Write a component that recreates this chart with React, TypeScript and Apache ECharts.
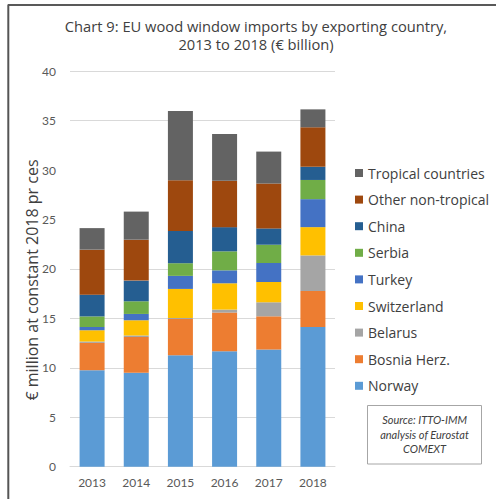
import React, { useEffect, useRef } from "react";
import * as echarts from "echarts";

const years = ["2013", "2014", "2015", "2016", "2017", "2018"];
const norway = [9.76, 9.49, 11.28, 11.68, 11.85, 14.13];
const bosnia = [2.76, 3.63, 3.66, 3.91, 3.36, 3.64];
const belarus = [0.14, 0.15, 0.1, 0.3, 1.42, 3.6];
const switzerland = [1.14, 1.54, 2.94, 2.66, 2.05, 2.86];
const turkey = [0.33, 0.64, 1.32, 1.31, 1.92, 2.83];
const serbia = [1.07, 1.28, 1.28, 1.92, 1.85, 1.94];
const china = [2.2, 2.09, 3.27, 2.45, 1.65, 1.33];
const otherNonTropical = [4.55, 4.14, 5.13, 4.68, 4.54, 4.0];
const tropical = [2.18, 2.84, 7.0, 4.75, 3.23, 1.81];

const seriesDefs = [
  { name: "Norway", data: norway, color: "#5b9bd5" },
  { name: "Bosnia Herz.", data: bosnia, color: "#ed7d31" },
  { name: "Belarus", data: belarus, color: "#a5a5a5" },
  { name: "Switzerland", data: switzerland, color: "#ffc000" },
  { name: "Turkey", data: turkey, color: "#4472c4" },
  { name: "Serbia", data: serbia, color: "#70ad47" },
  { name: "China", data: china, color: "#255e91" },
  { name: "Other non-tropical", data: otherNonTropical, color: "#9e480e" },
  { name: "Tropical countries", data: tropical, color: "#636363" },
];

const FONT = "Lato, 'Open Sans', sans-serif";
const WIDE = "'Open Sans', Lato, sans-serif";

export default function App() {
  const ref = useRef<HTMLDivElement>(null);
  useEffect(() => {
    if (!ref.current) return;
    const chart = echarts.init(ref.current, undefined, { renderer: "svg" });
    chart.setOption({
      animation: false,
      backgroundColor: "#ffffff",
      textStyle: { fontFamily: FONT },
      grid: { left: 70, right: 161, top: 71.2, bottom: 32.3 },
      legend: {
        orient: "vertical",
        left: 350,
        top: 161,
        padding: 5,
        itemWidth: 8,
        itemHeight: 8,
        itemGap: 12.6,
        icon: "rect",
        data: seriesDefs.map((s) => s.name).reverse(),
        textStyle: { fontSize: 14, color: "#404040", lineHeight: 14, fontFamily: WIDE },
        selectedMode: false,
      },
      xAxis: {
        type: "category",
        data: years,
        axisLine: { lineStyle: { color: "#d9d9d9", width: 1 } },
        axisTick: { show: false },
        axisLabel: { color: "#595959", fontSize: 12, margin: 10, fontFamily: FONT },
      },
      yAxis: {
        type: "value",
        min: 0,
        max: 40,
        interval: 5,
        axisLine: { show: false },
        axisTick: { show: false },
        axisLabel: { color: "#595959", fontSize: 12, margin: 14, fontFamily: FONT },
        splitLine: {
          lineStyle: {
            color: [
              "#d9d9d9",
              "#d9d9d9",
              "#d9d9d9",
              "#d9d9d9",
              "#d9d9d9",
              "rgba(0,0,0,0)",
              "rgba(0,0,0,0)",
              "#d9d9d9",
              "#d9d9d9",
            ],
            width: 1,
          },
        },
      },
      series: seriesDefs.map((s) => ({
        name: s.name,
        type: "bar",
        stack: "total",
        data: s.data,
        barWidth: 25,
        itemStyle: { color: s.color },
      })),
      graphic: [
        {
          type: "line",
          shape: { x1: 8, y1: 5, x2: 496, y2: 5 },
          style: { stroke: "#222222", lineWidth: 1.5 },
        },
        {
          type: "line",
          shape: { x1: 8.3, y1: 4.5, x2: 8.3, y2: 499 },
          style: { stroke: "#555555", lineWidth: 2 },
        },
        {
          type: "text",
          x: 256,
          y: 17,
          style: {
            text: "Chart 9: EU wood window imports by exporting country,\n2013 to 2018 (€ billion)",
            align: "center",
            verticalAlign: "top",
            fontSize: 14.7,
            lineHeight: 18,
            fill: "#404040",
            fontFamily: WIDE,
          },
        },
        {
          type: "text",
          x: 32,
          y: 280,
          rotation: Math.PI / 2,
          style: {
            text: "€ million at constant 2018 pr ces",
            align: "center",
            verticalAlign: "middle",
            fontSize: 16,
            fill: "#404040",
            fontFamily: WIDE,
          },
        },
        {
          type: "rect",
          shape: { x: 367.5, y: 405.5, width: 114, height: 58.5 },
          style: { fill: "#ffffff", stroke: "#a6a6a6", lineWidth: 1 },
        },
        {
          type: "text",
          x: 424.5,
          y: 434,
          style: {
            text: "Source: ITTO-IMM\nanalysis of Eurostat\nCOMEXT",
            align: "center",
            verticalAlign: "middle",
            fontSize: 11,
            lineHeight: 14.4,
            fontStyle: "italic",
            fill: "#404040",
            fontFamily: FONT,
          },
        },
      ],
    });
    return () => chart.dispose();
  }, []);
  return (
    <div
      ref={ref}
      style={{ position: "absolute", left: 0, top: 0, width: 496, height: 499 }}
    />
  );
}
